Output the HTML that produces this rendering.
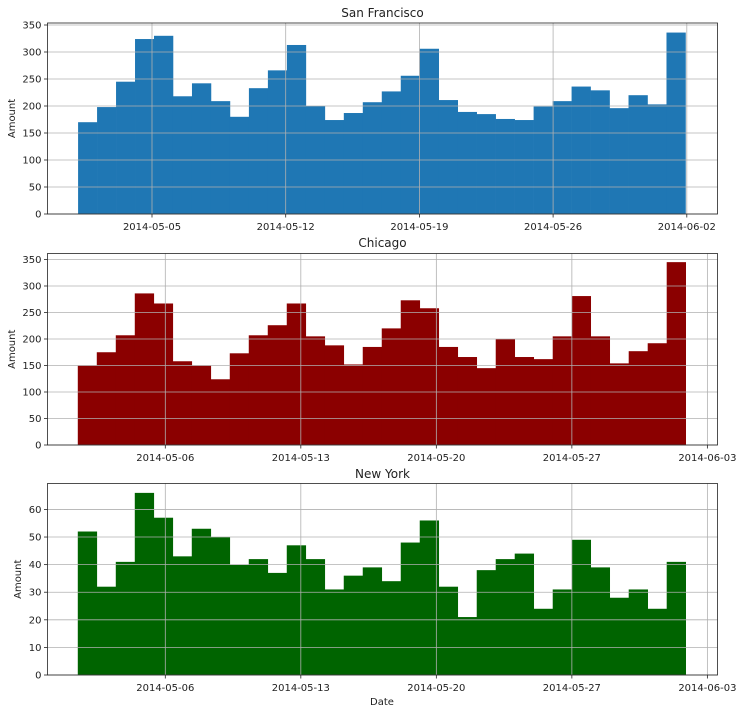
<!DOCTYPE html>
<html><head><meta charset="utf-8"><style>
html,body{margin:0;padding:0;background:#fff;}
svg text{font-family:"DejaVu Sans","Liberation Sans",sans-serif;fill:#222;}
</style></head><body>
<svg id="chart" width="742" height="713" xmlns="http://www.w3.org/2000/svg"></svg>
<script>
const sfValues = [170,198,245,324,330,218,242,209,180,233,266,313,200,174,187,207,227,256,306,211,189,185,176,174,199,209,236,229,196,220,203,336];
const chiValues = [150,175,207,286,267,158,150,124,173,207,226,267,205,188,152,185,220,273,258,185,166,145,200,166,162,205,281,205,154,177,192,345];
const nyValues = [52,32,41,66,57,43,53,50,40,42,37,47,42,31,36,39,34,48,56,32,21,38,42,44,24,31,49,39,28,31,24,41];
const sfTicksX = ["2014-05-05","2014-05-12","2014-05-19","2014-05-26","2014-06-02"];
const otherTicksX = ["2014-05-06","2014-05-13","2014-05-20","2014-05-27","2014-06-03"];
const bigTicksY = [0,50,100,150,200,250,300,350];
const nyTicksY = [0,10,20,30,40,50,60];
const titles = ["San Francisco","Chicago","New York"];

const svg = document.getElementById('chart');
const NS = 'http://www.w3.org/2000/svg';
function mk(tag, attrs, parent){const e=document.createElementNS(NS,tag);for(const k in attrs)e.setAttribute(k,attrs[k]);(parent||svg).appendChild(e);return e;}

const panels = [
 {title:titles[0], values:sfValues, color:'#1f77b4', ticksX:sfTicksX, ticksY:bigTicksY, top:23, bottom:214, ymax:353.7, x0:152, pxPerDay:19.1, binStart:-3.87, binSpan:31.8, titleY:17, name:'san-francisco'},
 {title:titles[1], values:chiValues, color:'#8b0000', ticksX:otherTicksX, ticksY:bigTicksY, top:253.5, bottom:445, ymax:361.3, x0:165.3, pxPerDay:19.36, binStart:-4.52, binSpan:31.4, titleY:247, name:'chicago'},
 {title:titles[2], values:nyValues, color:'#006400', ticksX:otherTicksX, ticksY:nyTicksY, top:483.5, bottom:675, ymax:69.4, x0:165.3, pxPerDay:19.36, binStart:-4.52, binSpan:31.4, titleY:478, name:'new-york'}
];
const L=47.5, R=717.5;

panels.forEach((p)=>{
  const g = mk('g',{});
  
  
  const xs = d => p.x0 + d*p.pxPerDay;
  const ys = v => p.bottom - v/p.ymax*(p.bottom-p.top);
  const bw = p.binSpan/p.values.length;
  p.values.forEach((v,i)=>{
    const xa = xs(p.binStart + i*bw), xb = xs(p.binStart + (i+1)*bw);
    const r = mk('rect',{x:xa, y:ys(v), width:xb-xa+0.3, height:p.bottom-ys(v), fill:p.color}, g);
    
    
  });
  // grid
  p.ticksY.forEach(t=>{
    const y = ys(t);
    const ln = mk('line',{x1:L,x2:R,y1:y,y2:y,stroke:'#b0b0b0','stroke-width':0.8}, g);
    
    
    mk('line',{x1:L-3.5,x2:L,y1:y,y2:y,stroke:'#222','stroke-width':0.8}, g);
    const tx = mk('text',{x:L-6,y:y+3.5,'text-anchor':'end','font-size':10}, g);
    tx.textContent = t;
    
    
  });
  p.ticksX.forEach((t,i)=>{
    const x = xs(i*7);
    const ln = mk('line',{x1:x,x2:x,y1:p.top,y2:p.bottom,stroke:'#b0b0b0','stroke-width':0.8}, g);
    
    
    mk('line',{x1:x,x2:x,y1:p.bottom,y2:p.bottom+3.5,stroke:'#222','stroke-width':0.8}, g);
    const tx = mk('text',{x:x,y:p.bottom+16,'text-anchor':'middle','font-size':10}, g);
    tx.textContent = t;
    
    
  });
  const fr = mk('rect',{x:L,y:p.top,width:R-L,height:p.bottom-p.top,fill:'none',stroke:'#222','stroke-width':0.8}, g);
  
  
  const tt = mk('text',{x:(L+R)/2,y:p.titleY,'text-anchor':'middle','font-size':12}, g);
  tt.textContent = p.title;
  
  
  const cy = (p.top+p.bottom)/2;
  const ya = mk('text',{x:0,y:0,'text-anchor':'middle','font-size':10,transform:`translate(${p.name==='new-york'?21:15},${cy}) rotate(-90)`}, g);
  ya.textContent = 'Amount';
  
  
});
const xt = mk('text',{x:382,y:705,'text-anchor':'middle','font-size':10});
xt.textContent='Date';


</script>
</body></html>
